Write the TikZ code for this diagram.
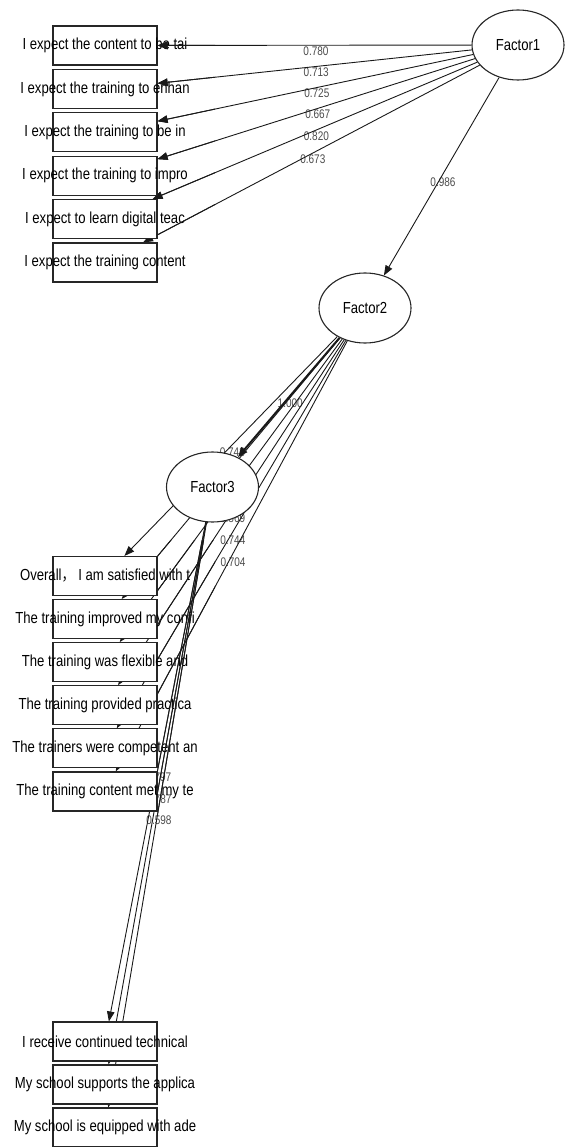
\documentclass[tikz,border=0pt]{standalone}
\usepackage{fontspec}
\usetikzlibrary{arrows.meta,shapes.geometric}
\newfontfamily\boxfont[FakeStretch=0.82]{Liberation Sans}
\newfontfamily\labfont[FakeStretch=0.8]{Liberation Sans}
\newfontfamily\cjkfont[FakeStretch=0.82]{Noto Sans CJK SC}
\newfontfamily\topfont{Liberation Serif}
\pgfdeclarelayer{edgelayer}
\pgfdeclarelayer{overlayer}
\pgfsetlayers{edgelayer,main,overlayer}
\tikzset{
  item/.style={draw=black!85, line width=1.1pt, fill=white, rectangle,
    minimum width=104pt, minimum height=39pt, inner sep=0pt,
    font=\boxfont\fontsize{16}{18}\selectfont},
  latent/.style={draw=black!85, line width=1.1pt, fill=white, ellipse,
    minimum width=92pt, minimum height=70pt, inner sep=0pt,
    font=\boxfont\fontsize{16}{18}\selectfont},
  lnk/.style={draw=black!90, line width=0.9pt, -{Triangle[length=10pt,width=7.5pt]}},
  thicklnk/.style={lnk, line width=2pt},
  lab/.style={midway, anchor=north, inner sep=1pt, xshift=1.5pt,
    font=\labfont\fontsize{12.5}{14}\selectfont, text=black!70},
  toptext/.style={inner sep=0pt, font=\topfont\fontsize{36}{40}\selectfont}
}
\newcommand\myedges{%
  \foreach \k in {1,...,6} {\draw[lnk] (f1) -- (a\k);}
  \draw[lnk] (f1) -- (f2);
  \foreach \k in {1,...,6} {\draw[lnk] (f2) -- (m\k);}
  \foreach \k in {1,2,3} {\draw[lnk] (f3) -- (c\k);}
  \draw[thicklnk] (f2) -- (f3);
}
\begin{document}
\begin{tikzpicture}[x=1pt,y=-1pt]
\useasboundingbox (0,0) rectangle (566,1147);

% cut-off text line at the top (only its lowest part is inside the picture)
\begin{scope}
  \clip (0,0) rectangle (566,40);
  \node[toptext, anchor=base east] (tl) at (206.5,-13) {because they are below 0.7 values,};
  \node[toptext, anchor=base west] (tr) at (215.5,-13) {hypothesis is not supported.};
\end{scope}

% latent factors
\node[latent] (f1) at (518,45) {Factor1};
\node[latent] (f2) at (365,308) {Factor2};
\node[latent] (f3) at (212.5,487) {Factor3};

% Factor1 items
\node[item] (a1) at (105,45.5)  {\makebox[0pt]{I expect the content to be tai}};
\node[item] (a2) at (105,88.9)  {\makebox[0pt]{I expect the training to enhan}};
\node[item] (a3) at (105,132.3) {\makebox[0pt]{I expect the training to be in}};
\node[item] (a4) at (105,175.7) {\makebox[0pt]{I expect the training to impro}};
\node[item] (a5) at (105,219.1) {\makebox[0pt]{I expect to learn digital teac}};
\node[item] (a6) at (105,262.5) {\makebox[0pt]{I expect the training content}};

% Factor2 items
\node[item] (m1) at (105,576)   {\makebox[0pt]{Overall{\cjkfont ，} I am satisfied with t}};
\node[item] (m2) at (105,619.1) {\makebox[0pt]{The training improved my confi}};
\node[item] (m3) at (105,662.2) {\makebox[0pt]{The training was flexible and}};
\node[item] (m4) at (105,705.3) {\makebox[0pt]{The training provided practica}};
\node[item] (m5) at (105,748.4) {\makebox[0pt]{The trainers were competent an}};
\node[item] (m6) at (105,791.5) {\makebox[0pt]{The training content met my te}};

% Factor3 items
\node[item] (c1) at (105,1041.5) {\makebox[0pt]{I receive continued technical}};
\node[item] (c2) at (105,1084.5) {\makebox[0pt]{My school supports the applica}};
\node[item] (c3) at (105,1127.5) {\makebox[0pt]{My school is equipped with ade}};

% connectors and loadings, below the nodes
\begin{pgfonlayer}{edgelayer}
  \path (f1) -- (a1) node[lab] {0.780};
  \path (f1) -- (a2) node[lab] {0.713};
  \path (f1) -- (a3) node[lab] {0.725};
  \path (f1) -- (a4) node[lab] {0.667};
  \path (f1) -- (a5) node[lab] {0.820};
  \path (f1) -- (a6) node[lab] {0.673};
  \path (f1) -- (f2) node[lab] {0.986};
  \path (f2) -- (m1) node[lab] {0.748};
  \path (f2) -- (m4) node[lab] {0.869};
  \path (f2) -- (m5) node[lab] {0.744};
  \path (f2) -- (m6) node[lab] {0.704};
  \path (f3) -- (c1) node[lab] {0.797};
  \path (f3) -- (c2) node[lab] {0.787};
  \path (f3) -- (c3) node[lab] {0.598};
  \path (f2) -- (f3) node[lab] {1.000};
  \myedges
\end{pgfonlayer}

% connectors again over the overflowing item texts
\begin{pgfonlayer}{overlayer}
  \begin{scope}
    \clip (157.7,0) rectangle (215,300) (157.7,540) rectangle (215,1147);
    \myedges
  \end{scope}
\end{pgfonlayer}
\end{tikzpicture}
\end{document}
